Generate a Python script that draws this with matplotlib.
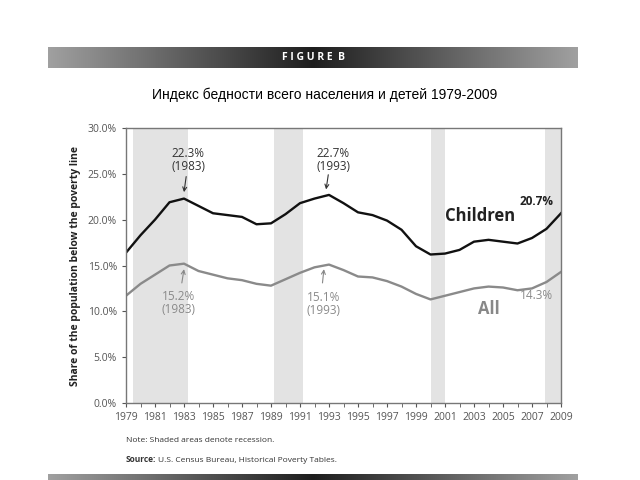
import numpy as np
import matplotlib.pyplot as plt
from matplotlib.colors import LinearSegmentedColormap

years = list(range(1979, 2010))
children = [16.4, 18.3, 20.0, 21.9, 22.3, 21.5, 20.7, 20.5, 20.3, 19.5, 19.6,
            20.6, 21.8, 22.3, 22.7, 21.8, 20.8, 20.5, 19.9, 18.9, 17.1, 16.2,
            16.3, 16.7, 17.6, 17.8, 17.6, 17.4, 18.0, 19.0, 20.7]
all_pop = [11.7, 13.0, 14.0, 15.0, 15.2, 14.4, 14.0, 13.6, 13.4, 13.0, 12.8,
           13.5, 14.2, 14.8, 15.1, 14.5, 13.8, 13.7, 13.3, 12.7, 11.9, 11.3,
           11.7, 12.1, 12.5, 12.7, 12.6, 12.3, 12.5, 13.2, 14.3]
recessions = [(1979.5, 1983.3), (1989.2, 1991.2), (2000.0, 2001.0), (2007.9, 2009.0)]
yticks = [0, 5, 10, 15, 20, 25, 30]

plt.rcParams['font.family'] = ['Open Sans', 'DejaVu Sans']

fig = plt.figure(figsize=(6.4, 4.8), dpi=100)

# gradient bars top and bottom
grad = LinearSegmentedColormap.from_list('g', ['#a0a0a0', '#1e1e1e', '#a0a0a0'])
g = np.linspace(0, 1, 256).reshape(1, -1)
hb = fig.add_axes([48/640, 1-68/480, 530/640, 21/480])
hb.imshow(g, aspect='auto', cmap=grad)
hb.axis('off')
hb.text(0.5, 0.5, 'F I G U R E  B', transform=hb.transAxes, ha='center', va='center',
        color='white', fontsize=7.5, fontweight='bold')

bb = fig.add_axes([48/640, 0, 530/640, 6/480])
bb.imshow(g, aspect='auto', cmap=grad)
bb.axis('off')

fig.text(325/640, 1-95/480, 'Индекс бедности всего населения и детей 1979-2009',
         ha='center', va='center', fontsize=10, family='Liberation Sans')

ax = fig.add_axes([126/640, 77/480, 435/640, 275/480])
for a, b in recessions:
    ax.axvspan(a, b, color='#e3e3e3', lw=0)
ax.plot(years, children, color='#111111', lw=1.7)
ax.plot(years, all_pop, color='#8a8a8a', lw=1.7)

ax.set_xlim(1979, 2009)
ax.set_ylim(0, 30)
ax.set_xticks(years[::2])
ax.set_xticks(years, minor=True)
ax.set_yticks(yticks)
ax.set_yticklabels(['%.1f%%' % v for v in yticks])
ax.tick_params(axis='both', labelsize=7.5, colors='#555555', length=3, width=0.8)
ax.tick_params(axis='x', which='minor', length=3, colors='#555555')
for s in ax.spines.values():
    s.set_color('#777777')
    s.set_linewidth(1.0)
ax.set_ylabel('Share of the population below the poverty line', fontsize=7.5,
              fontweight='bold', color='#222222', labelpad=5)

# annotations
arr_dark = dict(arrowstyle='->', color='#333333', lw=0.8, mutation_scale=7,
                shrinkA=0, shrinkB=0)
arr_gray = dict(arrowstyle='->', color='#888888', lw=0.8, mutation_scale=7,
                shrinkA=0, shrinkB=0)
ax.text(1983.3, 26.5, '22.3%\n(1983)', ha='center', va='center', fontsize=8.5,
        color='#333333', linespacing=1.05)
ax.annotate('', xy=(1983.0, 23.0), xytext=(1983.15, 24.7), arrowprops=arr_dark)
ax.text(1993.3, 26.5, '22.7%\n(1993)', ha='center', va='center', fontsize=8.5,
        color='#333333', linespacing=1.05)
ax.annotate('', xy=(1992.8, 23.3), xytext=(1992.95, 24.9), arrowprops=arr_dark)
ax.text(1982.6, 10.9, '15.2%\n(1983)', ha='center', va='center', fontsize=8.5,
        color='#8a8a8a', linespacing=1.05)
ax.annotate('', xy=(1983.0, 14.6), xytext=(1982.85, 13.1), arrowprops=arr_gray)
ax.text(1992.6, 10.8, '15.1%\n(1993)', ha='center', va='center', fontsize=8.5,
        color='#8a8a8a', linespacing=1.05)
ax.annotate('', xy=(1992.65, 14.6), xytext=(1992.55, 13.1), arrowprops=arr_gray)
ax.text(2007.3, 22.0, '20.7%', ha='center', va='center', fontsize=8.5,
        fontweight='bold', color='#222222')
ax.text(2007.3, 11.7, '14.3%', ha='center', va='center', fontsize=8.5, color='#8a8a8a')
ax.text(2003.4, 20.4, 'Children', ha='center', va='center', fontsize=12,
        fontweight='bold', color='#222222')
ax.text(2004.0, 10.2, 'All', ha='center', va='center', fontsize=12,
        fontweight='bold', color='#888888')

fig.text(126/640, 1-441/480, 'Note: Shaded areas denote recession.', fontsize=6,
         color='#333333', va='center')
fig.text(126/640, 1-460/480, 'Source:', fontsize=6, fontweight='bold',
         color='#333333', va='center')
fig.text(158/640, 1-460/480, 'U.S. Census Bureau, Historical Poverty Tables.', fontsize=6,
         color='#333333', va='center')

fig.savefig('out.png', dpi=100)
